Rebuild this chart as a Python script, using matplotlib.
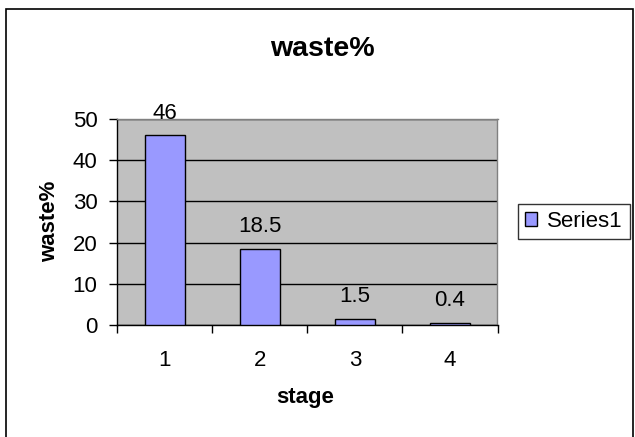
import matplotlib
matplotlib.use("Agg")
import matplotlib.pyplot as plt
from matplotlib.patches import Rectangle

stages = [1, 2, 3, 4]
waste = [46, 18.5, 1.5, 0.4]
labels = ["46", "18.5", "1.5", "0.4"]
series_name = "Series1"

plt.rcParams['font.family'] = ['Liberation Sans', 'DejaVu Sans']

W, H = 635, 437
fig = plt.figure(figsize=(W / 100, H / 100), dpi=100)
fig.patch.set_facecolor('white')

# plot area, in pixels from the top-left corner
left, right, top, bottom = 117, 497.5, 119, 325
ax = fig.add_axes([left / W, 1 - bottom / H, (right - left) / W, (bottom - top) / H])
ax.set_facecolor('#C0C0C0')

bars = ax.bar(stages, waste, width=0.42, color='#9999FF', edgecolor='black',
              linewidth=1.0, label=series_name, zorder=3)

for x, v, t in zip(stages, waste, labels):
    ax.annotate(t, (x, v), xytext=(0, 12.2), textcoords='offset points',
                ha='center', va='baseline', fontsize=16, zorder=4,
                annotation_clip=False)

ax.set_xlim(0.5, 4.5)
ax.set_ylim(0, 50)
ax.set_yticks(range(0, 51, 10))
ax.yaxis.grid(True, color='black', linewidth=1.0, zorder=1)
ax.set_axisbelow(True)

# category boundaries carry the tick marks, centres carry the labels
ax.set_xticks([0.5, 1.5, 2.5, 3.5, 4.5])
ax.set_xticklabels([])
ax.set_xticks(stages, minor=True)
ax.set_xticklabels([str(s) for s in stages], minor=True)
ax.tick_params(axis='x', which='major', direction='out', length=6, width=1.0)
ax.tick_params(axis='x', which='minor', length=0, pad=18, labelsize=16)
ax.tick_params(axis='y', direction='out', length=6, width=1.0, pad=8, labelsize=16)

for s in ['left', 'bottom']:
    ax.spines[s].set_color('black')
    ax.spines[s].set_linewidth(1.0)
for s in ['top', 'right']:
    ax.spines[s].set_color('#808080')
    ax.spines[s].set_linewidth(1.0)

fig.text(322 / W, 1 - 56 / H, 'waste%', ha='center', va='baseline',
         fontsize=20.5, fontweight='bold')
fig.text(305 / W, 1 - 403 / H, 'stage', ha='center', va='baseline',
         fontsize=16, fontweight='bold')
fig.text(50 / W, 1 - 221.5 / H, 'waste%', ha='center', va='center',
         rotation=90, fontsize=16, fontweight='bold')

leg = fig.legend(handles=[bars], labels=[series_name], loc='center',
                 bbox_to_anchor=(574 / W, 1 - 221.5 / H), fontsize=16,
                 frameon=True, fancybox=False, shadow=False,
                 handlelength=0.55, handleheight=0.55, handletextpad=0.45,
                 borderpad=0.3)
leg.get_frame().set_edgecolor('black')
leg.get_frame().set_linewidth(1.0)

# outer chart frame, runs off the bottom edge
fig.patches.append(Rectangle((6 / W, -0.05), (633 - 6) / W, 1.05 - 9 / H,
                             transform=fig.transFigure, fill=False,
                             edgecolor='black', linewidth=1.2, zorder=0))

fig.savefig('out.png', dpi=100)
